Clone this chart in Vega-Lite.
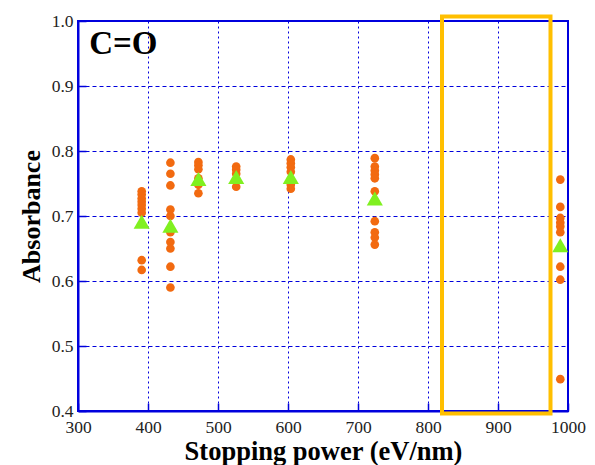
{
  "$schema": "https://vega.github.io/schema/vega-lite/v6.json",
  "width": 490,
  "height": 390,
  "autosize": "none",
  "padding": {"left": 78, "top": 21, "right": 27, "bottom": 54},
  "background": "white",
  "config": {
    "view": {"stroke": "#0000DD", "strokeWidth": 2},
    "font": "Liberation Serif",
    "axis": {
      "domainColor": "#0000DD",
      "domainWidth": 2,
      "tickColor": "#0000DD",
      "tickWidth": 1.5,
      "tickSize": -8,
      "gridColor": "#0000DD",
      "gridWidth": 1,
      "gridOpacity": 1,
      "labelFont": "Liberation Serif",
      "labelFontSize": 17.5,
      "labelColor": "#222222",
      "labelFlush": false,
      "labelOverlap": false,
      "titleFont": "Liberation Serif",
      "titleFontSize": 26,
      "titleFontWeight": "bold",
      "titleColor": "black"
    }
  },
  "datasets": {
    "samples": [
      {"sp": 391, "abs": 0.738}, {"sp": 391, "abs": 0.733}, {"sp": 391, "abs": 0.727},
      {"sp": 391, "abs": 0.722}, {"sp": 391, "abs": 0.717}, {"sp": 391, "abs": 0.711},
      {"sp": 391, "abs": 0.705}, {"sp": 391, "abs": 0.632}, {"sp": 391, "abs": 0.617},
      {"sp": 432, "abs": 0.782}, {"sp": 432, "abs": 0.765}, {"sp": 432, "abs": 0.747},
      {"sp": 432, "abs": 0.71}, {"sp": 432, "abs": 0.70}, {"sp": 432, "abs": 0.675},
      {"sp": 432, "abs": 0.66}, {"sp": 432, "abs": 0.65}, {"sp": 432, "abs": 0.622},
      {"sp": 432, "abs": 0.59},
      {"sp": 472, "abs": 0.783}, {"sp": 472, "abs": 0.778}, {"sp": 472, "abs": 0.772},
      {"sp": 472, "abs": 0.758}, {"sp": 472, "abs": 0.748}, {"sp": 472, "abs": 0.735},
      {"sp": 526, "abs": 0.776}, {"sp": 526, "abs": 0.771}, {"sp": 526, "abs": 0.765},
      {"sp": 526, "abs": 0.755}, {"sp": 526, "abs": 0.745},
      {"sp": 604, "abs": 0.787}, {"sp": 604, "abs": 0.781}, {"sp": 604, "abs": 0.775},
      {"sp": 604, "abs": 0.768}, {"sp": 604, "abs": 0.755}, {"sp": 604, "abs": 0.748},
      {"sp": 604, "abs": 0.742},
      {"sp": 724, "abs": 0.789}, {"sp": 724, "abs": 0.776}, {"sp": 724, "abs": 0.77},
      {"sp": 724, "abs": 0.764}, {"sp": 724, "abs": 0.758}, {"sp": 724, "abs": 0.738},
      {"sp": 724, "abs": 0.692}, {"sp": 724, "abs": 0.675}, {"sp": 724, "abs": 0.667},
      {"sp": 724, "abs": 0.656},
      {"sp": 989, "abs": 0.756}, {"sp": 989, "abs": 0.714}, {"sp": 989, "abs": 0.697},
      {"sp": 989, "abs": 0.69}, {"sp": 989, "abs": 0.684}, {"sp": 989, "abs": 0.675},
      {"sp": 989, "abs": 0.622}, {"sp": 989, "abs": 0.602}, {"sp": 989, "abs": 0.449}
    ],
    "means": [
      {"sp": 391, "abs": 0.691}, {"sp": 432, "abs": 0.685}, {"sp": 472, "abs": 0.757},
      {"sp": 526, "abs": 0.76}, {"sp": 604, "abs": 0.76}, {"sp": 724, "abs": 0.727},
      {"sp": 989, "abs": 0.655}
    ],
    "box": [{"x1": 820, "x2": 975, "y1": 0.396, "y2": 1.007}],
    "label": [{"sp": 316, "abs": 0.964, "t": "C=O"}]
  },
  "layer": [
    {
      "data": {"name": "samples"},
      "mark": {"type": "circle", "size": 75, "color": "#F26A10", "opacity": 1},
      "encoding": {
        "x": {"field": "sp", "type": "quantitative",
              "scale": {"domain": [300, 1000], "nice": false, "zero": false},
              "axis": {"title": "Stopping power (eV/nm)", "titleFontSize": 26.5, "values": [300,400,500,600,700,800,900,1000],
                       "format": "d", "grid": true, "gridDash": [2, 3], "labelPadding": 15, "titlePadding": 3}},
        "y": {"field": "abs", "type": "quantitative",
              "scale": {"domain": [0.4, 1.0], "nice": false, "zero": false},
              "axis": {"title": "Absorbance", "values": [0.4,0.5,0.6,0.7,0.8,0.9,1.0], "format": ".1f",
                       "grid": true, "gridDash": [4, 3], "labelPadding": 13, "titlePadding": 7}}
      }
    },
    {
      "data": {"name": "means"},
      "mark": {"type": "point", "shape": "triangle-up", "size": 260, "filled": true, "color": "#80F020", "opacity": 1},
      "encoding": {
        "x": {"field": "sp", "type": "quantitative"},
        "y": {"field": "abs", "type": "quantitative"}
      }
    },
    {
      "data": {"name": "box"},
      "mark": {"type": "rect", "fill": null, "stroke": "#FFBF00", "strokeWidth": 4, "clip": false},
      "encoding": {
        "x": {"field": "x1", "type": "quantitative"},
        "x2": {"field": "x2"},
        "y": {"field": "y1", "type": "quantitative"},
        "y2": {"field": "y2"}
      }
    },
    {
      "data": {"name": "label"},
      "mark": {"type": "text", "align": "left", "baseline": "middle", "font": "Liberation Serif",
               "fontSize": 33, "fontWeight": "bold", "color": "black"},
      "encoding": {
        "x": {"field": "sp", "type": "quantitative"},
        "y": {"field": "abs", "type": "quantitative"},
        "text": {"field": "t"}
      }
    }
  ]
}
